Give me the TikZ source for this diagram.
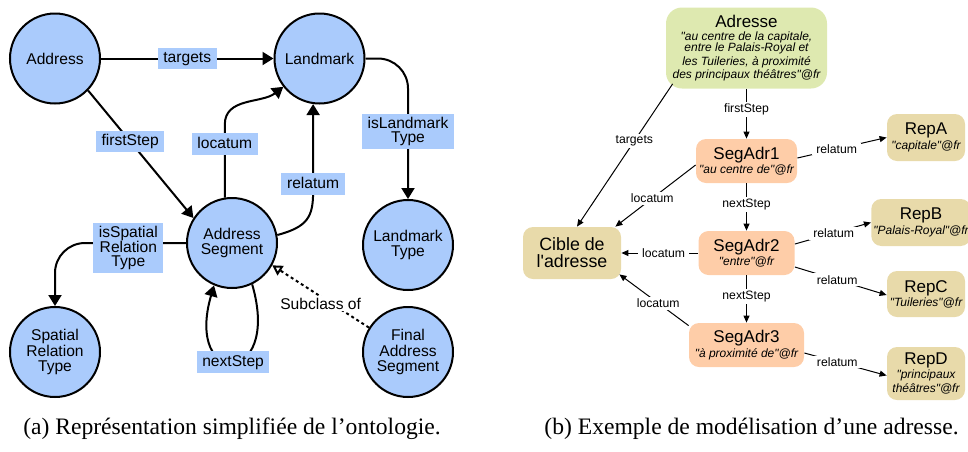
\documentclass[tikz,border=0pt]{standalone}
\usepackage{fontspec}
\setmainfont{Liberation Serif}
\newfontfamily\diagfont{Liberation Sans}
\usepackage{xcolor}
\usepackage{tikz}
\usetikzlibrary{arrows.meta}
\definecolor{conceptblue}{RGB}{170,203,252}
\definecolor{adrgreen}{RGB}{222,233,176}
\definecolor{segorange}{RGB}{254,205,168}
\definecolor{reptan}{RGB}{232,218,170}
\newcommand{\adrtitle}{\diagfont\upshape\fontsize{8.5}{9}\selectfont}
\newcommand{\adrlit}{\diagfont\itshape\fontsize{6}{5.6}\selectfont}
\tikzset{
    concept/.style={circle, draw=black, line width=1pt, fill=conceptblue, minimum size=45pt, inner sep=0pt, align=center, font=\diagfont\fontsize{7.8}{7.8}\selectfont},
    rellabel/.style={sharp corners, fill=conceptblue, inner xsep=2.8pt, inner ysep=1.6pt, align=center, font=\diagfont\fontsize{7.8}{7.4}\selectfont},
    onelabel/.style={rellabel, text height=5.9pt, text depth=1.8pt},
    link/.style={line width=1pt, -{Triangle[length=5.5pt, width=6.5pt]}},
    subclass/.style={line width=1pt, dash pattern=on 1.5pt off 1.5pt, -{Triangle[open, length=5pt, width=5.5pt]}},
    instance/.style={rounded corners=5pt, fill=#1, inner sep=1pt, align=center, minimum height=22pt, font=\adrlit},
    thinlink/.style={line width=0.5pt, -{Triangle[length=3.5pt, width=3pt]}},
    thinlabel/.style={fill=white, inner xsep=2pt, inner ysep=1pt, font=\diagfont\fontsize{6.1}{6.1}\selectfont}
}
\begin{document}
\begin{tikzpicture}[x=0.5pt, y=0.5pt]
    \useasboundingbox (0,0) rectangle (968,-451);
    \node[concept] (address) at (55,-58.5) {Address};
    \node[concept] (landmark) at (319.5,-58.5) {Landmark};
    \node[concept] (segment) at (232,-243) {Address\\Segment};
    \node[concept] (lmtype) at (408,-245) {Landmark\\Type};
    \node[concept] (sptype) at (55,-352) {Spatial\\Relation\\Type};
    \node[concept] (finalseg) at (408,-352) {Final\\Address\\Segment};
    \draw[link] (address) -- (landmark) node[onelabel, pos=0.5] {targets};
    \draw[link] (address.-44) -- (segment.147) node[onelabel, pos=0.4] {firstStep};
    \draw[link] (segment.99) -- ++(0,73) node[onelabel, pos=0.73] {locatum} to[out=90, in=218] (landmark.218);
    \draw[link] (segment.10) .. controls +(30,8) and +(0,-25) .. ([yshift=-44pt]landmark.262) -- (landmark.262) node[onelabel, pos=0.09] {relatum};
    \draw[link, rounded corners=15pt] (landmark.east) -| (lmtype.north) node[rellabel, pos=0.76] {isLandmark\\Type};
    \draw[link, rounded corners=15pt] (segment.west) -| (sptype.north) node[rellabel, pos=0.22, yshift=-2.5pt] {isSpatial\\Relation\\Type};
    \draw[link] (segment.296) .. controls +(30,-103) and +(-30,-103) .. (segment.247) node[onelabel, pos=0.5] {nextStep};
    \draw[subclass] (finalseg.148) -- (segment.331) node[fill=white, inner sep=1pt, pos=0.5, yshift=-3.5pt, font=\diagfont\fontsize{7.8}{7.8}\selectfont] {Subclass of};

    \node[instance=adrgreen, rounded corners=8pt, minimum width=80.5pt, minimum height=40.5pt] (adresse) at (746.5,-48) {{\adrtitle Adresse}\\[1pt]"au centre de la capitale,\\entre le Palais-Royal et\\les Tuileries, à proximité\\des principaux théâtres"@fr};
    \node[instance=segorange, minimum width=50.5pt] (seg1) at (746.5,-161) {{\adrtitle SegAdr1}\\"au centre de"@fr};
    \node[instance=segorange, minimum width=48pt] (seg2) at (746.5,-253) {{\adrtitle SegAdr2}\\"entre"@fr};
    \node[instance=segorange, minimum width=57.5pt] (seg3) at (746.5,-345) {{\adrtitle SegAdr3}\\"à proximité de"@fr};
    \node[instance=reptan, minimum width=39pt, minimum height=23.5pt] (repa) at (926,-137.5) {{\adrtitle RepA}\\"capitale"@fr};
    \node[instance=reptan, minimum width=46pt, minimum height=23.5pt] (repb) at (921,-222.5) {{\adrtitle RepB}\\"Palais-Royal"@fr};
    \node[instance=reptan, minimum width=39pt, minimum height=23pt] (repc) at (926,-294) {{\adrtitle RepC}\\"Tuileries"@fr};
    \node[instance=reptan, minimum width=39pt, minimum height=26.5pt] (repd) at (926,-373.5) {{\adrtitle RepD}\\"principaux\\théâtres"@fr};
    \node[instance=reptan, minimum width=49pt, minimum height=26pt, font=\diagfont\fontsize{8.9}{8.4}\selectfont] (cible) at (572,-253) {Cible de\\l'adresse};
    \draw[thinlink] (adresse) -- (seg1) node[thinlabel, pos=0.42] {firstStep};
    \draw[thinlink] (seg1) -- (seg2) node[thinlabel, pos=0.45] {nextStep};
    \draw[thinlink] (seg2) -- (seg3) node[thinlabel, pos=0.45] {nextStep};
    \draw[thinlink] ([xshift=3.5pt,yshift=2.5pt]adresse.south west) -- ([xshift=2.5pt]cible.north) node[thinlabel, pos=0.4] {targets};
    \draw[thinlink] ([yshift=-2pt]seg1.west) -- ([xshift=-3pt]cible.north east) node[thinlabel, pos=0.54] {locatum};
    \draw[thinlink] (seg2) -- (cible) node[thinlabel, pos=0.45] {locatum};
    \draw[thinlink] ([yshift=-1.5pt]seg3.north west) -- ([xshift=-1pt,yshift=2.5pt]cible.south east) node[thinlabel, pos=0.44] {locatum};
    \draw[thinlink] ([yshift=1.5pt]seg1.east) -- (repa.west) node[thinlabel, pos=0.44] {relatum};
    \draw[thinlink] ([yshift=4.5pt]seg2.east) -- (repb.west) node[thinlabel, pos=0.51] {relatum};
    \draw[thinlink] ([yshift=-7pt]seg2.east) -- ([yshift=-0.5pt]repc.west) node[thinlabel, pos=0.46] {relatum};
    \draw[thinlink] ([yshift=-4pt]seg3.east) -- ([yshift=-1pt]repd.west) node[thinlabel, pos=0.4] {relatum};

    \node[font=\fontsize{11.8}{14}\selectfont] (capa) at (232,-429) {(a) Représentation simplifiée de l’ontologie.};
    \node[font=\fontsize{11.8}{14}\selectfont] (capb) at (751.5,-429) {(b) Exemple de modélisation d’une adresse.};
\end{tikzpicture}
\end{document}
